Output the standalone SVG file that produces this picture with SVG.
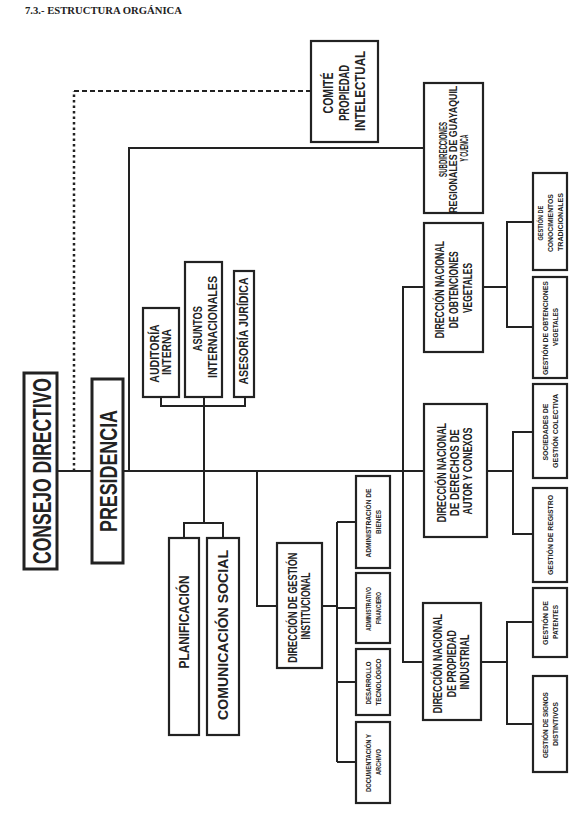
<svg xmlns="http://www.w3.org/2000/svg" width="581" height="814" viewBox="0 0 581 814">
<style>
rect{fill:#fff;stroke:#222;stroke-width:2.2}
.dbl{stroke-width:3}
text{font-family:"Liberation Sans Narrow","Liberation Sans",Arial,sans-serif;font-weight:bold;fill:#222;text-anchor:middle}
#connectors path{fill:none;stroke:#222;stroke-width:2}
.title{font-family:"Liberation Serif","Times New Roman",serif;text-anchor:start;font-size:10px}
</style>
<rect x="0" y="0" width="581" height="814" style="stroke:none;fill:#fff"/>
<text class="title" x="25" y="14" textLength="157" lengthAdjust="spacingAndGlyphs">7.3.- ESTRUCTURA ORGÁNICA</text>

<g id="connectors">
<path d="M57,471 H92"/>
<path d="M74,471 V91" style="stroke-dasharray:2.5 3;stroke-width:2.5"/>
<path d="M74,91 H311" style="stroke-dasharray:5 3"/>
<path d="M123,471 H424"/>
<path d="M129,471 V148 H424"/>
<path d="M161,397 V406 H245 V397"/>
<path d="M204,397 V523"/>
<path d="M184,538 V523 H223 V538"/>
<path d="M257,471 V606 H277"/>
<path d="M322,606 H337"/>
<path d="M337,522 V762"/>
<path d="M337,522 H356 M337,608 H356 M337,682 H356 M337,762 H356"/>
<path d="M424,287 H403 V662 H423"/>
<path d="M483,287 H507 M533,222 H507 V327 H533"/>
<path d="M487,471 H513 M533,432 H513 V534 H533"/>
<path d="M481,662 H507 M533,622 H507 V724 H533"/>
</g>

<g id="consejo-directivo">
<rect class="dbl" x="24" y="373" width="33" height="196"/>
<text transform="translate(42,471) rotate(-90)" font-size="26"><tspan x="0" y="9.3" textLength="186" lengthAdjust="spacingAndGlyphs">CONSEJO DIRECTIVO</tspan></text>
</g>
<g id="presidencia">
<rect class="dbl" x="92" y="379" width="31" height="184"/>
<text transform="translate(108,471) rotate(-90)" font-size="24"><tspan x="0" y="8.5" textLength="122" lengthAdjust="spacingAndGlyphs">PRESIDENCIA</tspan></text>
</g>
<g id="comite">
<rect x="311" y="41" width="67" height="101"/>
<text transform="translate(344.5,91) rotate(-90)" font-size="14">
<tspan x="0" y="-11.5" textLength="41" lengthAdjust="spacingAndGlyphs">COMITÉ</tspan>
<tspan x="0" y="4.5" textLength="56" lengthAdjust="spacingAndGlyphs">PROPIEDAD</tspan>
<tspan x="0" y="20" textLength="80" lengthAdjust="spacingAndGlyphs">INTELECTUAL</tspan></text>
</g>
<g id="subdirecciones">
<rect x="424" y="83" width="59" height="130"/>
<text transform="translate(453.5,148) rotate(-90)" font-size="10">
<tspan x="0" y="-6.9" textLength="55" lengthAdjust="spacingAndGlyphs">SUBDIRECCIONES</tspan>
<tspan x="0" y="3.6" textLength="127" lengthAdjust="spacingAndGlyphs">REGIONALES DE GUAYAQUIL</tspan>
<tspan x="0" y="14.1" textLength="27" lengthAdjust="spacingAndGlyphs">Y CUENCA</tspan></text>
</g>
<g id="auditoria">
<rect x="143" y="308" width="36" height="89"/>
<text transform="translate(161,352) rotate(-90)" font-size="12">
<tspan x="0" y="-2.4" textLength="58" lengthAdjust="spacingAndGlyphs">AUDITORÍA</tspan>
<tspan x="0" y="10.3" textLength="46" lengthAdjust="spacingAndGlyphs">INTERNA</tspan></text>
</g>
<g id="asuntos">
<rect x="185" y="262" width="37" height="135"/>
<text transform="translate(204,327) rotate(-90)" font-size="12">
<tspan x="0" y="-2.5" textLength="45" lengthAdjust="spacingAndGlyphs">ASUNTOS</tspan>
<tspan x="0" y="12.5" textLength="102" lengthAdjust="spacingAndGlyphs">INTERNACIONALES</tspan></text>
</g>
<g id="asesoria">
<rect x="234" y="271" width="20" height="126"/>
<text transform="translate(244,331) rotate(-90)" font-size="12"><tspan x="0" y="4.3" textLength="107" lengthAdjust="spacingAndGlyphs">ASESORÍA JURÍDICA</tspan></text>
</g>
<g id="planificacion">
<rect x="169" y="538" width="30" height="197"/>
<text transform="translate(184,622) rotate(-90)" font-size="14"><tspan x="0" y="5" textLength="93" lengthAdjust="spacingAndGlyphs">PLANIFICACIÓN</tspan></text>
</g>
<g id="comunicacion">
<rect x="207" y="538" width="32" height="197"/>
<text transform="translate(223,635) rotate(-90)" font-size="15"><tspan x="0" y="5.4" textLength="170" lengthAdjust="spacingAndGlyphs">COMUNICACIÓN SOCIAL</tspan></text>
</g>
<g id="gestion-institucional">
<rect x="277" y="543" width="45" height="125"/>
<text transform="translate(299.5,606) rotate(-90)" font-size="12">
<tspan x="0" y="-2.2" textLength="110" lengthAdjust="spacingAndGlyphs">DIRECCIÓN DE  GESTIÓN</tspan>
<tspan x="0" y="10.8" textLength="67" lengthAdjust="spacingAndGlyphs">INSTITUCIONAL</tspan></text>
</g>
<g id="administracion-bienes">
<rect x="356" y="476" width="34" height="92"/>
<text transform="translate(373,522) rotate(-90)" font-size="7.5">
<tspan x="0" y="-2.3" textLength="69" lengthAdjust="spacingAndGlyphs">ADMINISTRACIÓN DE</tspan>
<tspan x="0" y="7.7" textLength="24" lengthAdjust="spacingAndGlyphs">BIENES</tspan></text>
</g>
<g id="administrativo-financiero">
<rect x="356" y="573" width="34" height="70"/>
<text transform="translate(373,608) rotate(-90)" font-size="7.5">
<tspan x="0" y="-2.3" textLength="44" lengthAdjust="spacingAndGlyphs">ADMINISTRATIVO</tspan>
<tspan x="0" y="7.7" textLength="32" lengthAdjust="spacingAndGlyphs">FINANCIERO</tspan></text>
</g>
<g id="desarrollo-tecnologico">
<rect x="356" y="649" width="34" height="66"/>
<text transform="translate(373,682) rotate(-90)" font-size="7.5">
<tspan x="0" y="-2.3" textLength="43" lengthAdjust="spacingAndGlyphs">DESARROLLO</tspan>
<tspan x="0" y="7.7" textLength="47" lengthAdjust="spacingAndGlyphs">TECNOLÓGICO</tspan></text>
</g>
<g id="documentacion-archivo">
<rect x="356" y="722" width="34" height="81"/>
<text transform="translate(373,762) rotate(-90)" font-size="7.5">
<tspan x="0" y="-2.3" textLength="58" lengthAdjust="spacingAndGlyphs">DOCUMENTACIÓN Y</tspan>
<tspan x="0" y="7.7" textLength="26" lengthAdjust="spacingAndGlyphs">ARCHIVO</tspan></text>
</g>
<g id="obtenciones-vegetales">
<rect x="424" y="223" width="59" height="129"/>
<text transform="translate(454,288) rotate(-90)" font-size="12">
<tspan x="0" y="-9.7" textLength="97" lengthAdjust="spacingAndGlyphs">DIRECCIÓN NACIONAL</tspan>
<tspan x="0" y="4.3" textLength="77" lengthAdjust="spacingAndGlyphs">DE OBTENCIONES</tspan>
<tspan x="0" y="18.3" textLength="50" lengthAdjust="spacingAndGlyphs">VEGETALES</tspan></text>
</g>
<g id="derechos-autor">
<rect x="424" y="404" width="63" height="133"/>
<text transform="translate(455,471) rotate(-90)" font-size="12">
<tspan x="0" y="-8.7" textLength="99" lengthAdjust="spacingAndGlyphs">DIRECCIÓN NACIONAL</tspan>
<tspan x="0" y="4.3" textLength="87" lengthAdjust="spacingAndGlyphs">DE DERECHOS DE</tspan>
<tspan x="0" y="17.3" textLength="87" lengthAdjust="spacingAndGlyphs">AUTOR Y CONEXOS</tspan></text>
</g>
<g id="propiedad-industrial">
<rect x="423" y="603" width="58" height="117"/>
<text transform="translate(452,662) rotate(-90)" font-size="12">
<tspan x="0" y="-9.7" textLength="99" lengthAdjust="spacingAndGlyphs">DIRECCIÓN NACIONAL</tspan>
<tspan x="0" y="4.3" textLength="67" lengthAdjust="spacingAndGlyphs">DE PROPIEDAD</tspan>
<tspan x="0" y="17.3" textLength="55" lengthAdjust="spacingAndGlyphs">INDUSTRIAL</tspan></text>
</g>
<g id="conocimientos-tradicionales">
<rect x="533" y="173" width="34" height="97"/>
<text transform="translate(550,222) rotate(-90)" font-size="8">
<tspan x="0" y="-7.1" textLength="35" lengthAdjust="spacingAndGlyphs">GESTIÓN DE</tspan>
<tspan x="0" y="2.9" textLength="58" lengthAdjust="spacingAndGlyphs">CONOCIMIENTOS</tspan>
<tspan x="0" y="12.9" textLength="58" lengthAdjust="spacingAndGlyphs">TRADICIONALES</tspan></text>
</g>
<g id="gestion-obtenciones">
<rect x="533" y="277" width="34" height="101"/>
<text transform="translate(550,327) rotate(-90)" font-size="8">
<tspan x="0" y="-2.1" textLength="94" lengthAdjust="spacingAndGlyphs">GESTIÓN DE OBTENCIONES</tspan>
<tspan x="0" y="7.9" textLength="38" lengthAdjust="spacingAndGlyphs">VEGETALES</tspan></text>
</g>
<g id="sociedades-gestion">
<rect x="533" y="384" width="34" height="94"/>
<text transform="translate(550,431) rotate(-90)" font-size="8">
<tspan x="0" y="-2.1" textLength="57" lengthAdjust="spacingAndGlyphs">SOCIEDADES DE</tspan>
<tspan x="0" y="7.9" textLength="74" lengthAdjust="spacingAndGlyphs">GESTIÓN COLECTIVA</tspan></text>
</g>
<g id="gestion-registro">
<rect x="533" y="488" width="34" height="94"/>
<text transform="translate(550,535) rotate(-90)" font-size="8"><tspan x="0" y="2.9" textLength="80" lengthAdjust="spacingAndGlyphs">GESTIÓN DE REGISTRO</tspan></text>
</g>
<g id="gestion-patentes">
<rect x="533" y="588" width="34" height="69"/>
<text transform="translate(550,622) rotate(-90)" font-size="8">
<tspan x="0" y="-2.1" textLength="44" lengthAdjust="spacingAndGlyphs">GESTIÓN DE</tspan>
<tspan x="0" y="7.9" textLength="34" lengthAdjust="spacingAndGlyphs">PATENTES</tspan></text>
</g>
<g id="signos-distintivos">
<rect x="533" y="676" width="34" height="96"/>
<text transform="translate(550,724) rotate(-90)" font-size="8">
<tspan x="0" y="-2.1" textLength="66" lengthAdjust="spacingAndGlyphs">GESTIÓN DE SIGNOS</tspan>
<tspan x="0" y="7.9" textLength="44" lengthAdjust="spacingAndGlyphs">DISTINTIVOS</tspan></text>
</g>
</svg>
